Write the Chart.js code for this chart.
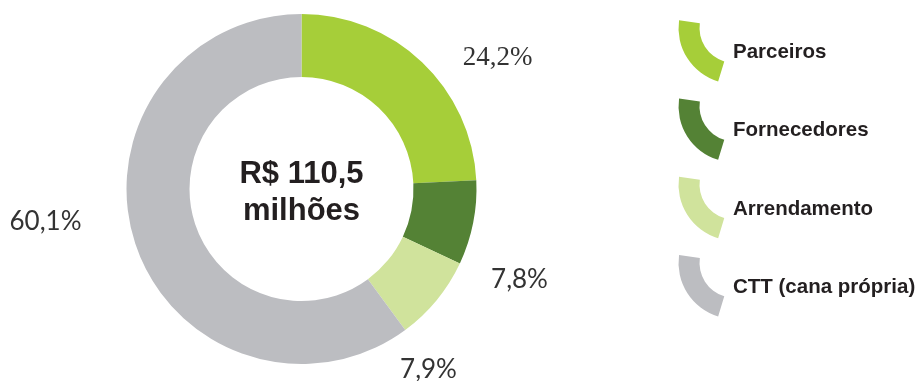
<!DOCTYPE html>
<html lang="pt-BR">
<head>
    <meta charset="utf-8">
    <meta name="viewport" content="width=device-width, initial-scale=1">
    <title>Origem da cana - R$ 110,5 milhões</title>
    <script src="https://cdn.jsdelivr.net/npm/chart.js"></script>
    <style>
        html, body { margin: 0; padding: 0; background: #fff; }
        #wrap { width: 923px; height: 381px; position: relative; }
    </style>
</head>
<body>
    <div id="wrap">
        <canvas id="chart"></canvas>
    </div>
    <script>
        const categories = ['Parceiros', 'Fornecedores', 'Arrendamento', 'CTT (cana própria)'];
        const shares = [24.2, 7.8, 7.9, 60.1];
        const shareLabels = ['24,2%', '7,8%', '7,9%', '60,1%'];
        const colors = ['#a6ce39', '#548235', '#d0e39c', '#bcbdc1'];
        const centerLines = ['R$ 110,5', 'milhões'];

        // value labels, center text and the arc-shaped legend
        const decorations = {
            id: 'decorations',
            afterDraw(chart, args, opts) {
                const ctx = chart.ctx;
                const arc0 = chart.getDatasetMeta(0).data[0];
                const cx = arc0.x, cy = arc0.y;

                ctx.save();
                ctx.textAlign = 'center';
                ctx.textBaseline = 'alphabetic';

                // percentages around the ring
                shareLabels.forEach((txt, i) => {
                    const off = opts.labelOffsets[i];
                    ctx.font = i === 0 ? '27px "Liberation Serif", serif' : '26px Lato, sans-serif';
                    ctx.fillStyle = '#333333';
                    ctx.fillText(txt, cx + off[0], cy + off[1]);
                });

                // total in the hole
                ctx.font = 'bold 31px "Liberation Sans", Arial, sans-serif';
                ctx.fillStyle = '#231f20';
                ctx.fillText(centerLines[0], cx, cy - 6);
                ctx.fillText(centerLines[1], cx, cy + 31);

                // legend
                ctx.textAlign = 'left';
                ctx.font = 'bold 20.5px "Liberation Sans", Arial, sans-serif';
                const lg = opts.legend;
                categories.forEach((name, i) => {
                    const y = lg.top + i * lg.step;
                    ctx.beginPath();
                    ctx.arc(lg.arcX, y, lg.outer, lg.start, lg.end);
                    ctx.arc(lg.arcX, y, lg.inner, lg.end, lg.start, true);
                    ctx.closePath();
                    ctx.fillStyle = colors[i];
                    ctx.fill();

                    ctx.fillStyle = '#231f20';
                    ctx.fillText(name, lg.textX, y + 30);
                });
                ctx.restore();
            }
        };

        new Chart(document.getElementById('chart'), {
            type: 'doughnut',
            data: {
                labels: categories,
                datasets: [{
                    data: shares,
                    backgroundColor: colors,
                    borderWidth: 0,
                    hoverOffset: 0
                }]
            },
            options: {
                responsive: true,
                maintainAspectRatio: false,
                animation: false,
                cutout: '64%',
                layout: { padding: { left: 126, right: 446, top: 14, bottom: 17 } },
                plugins: {
                    legend: { display: false },
                    tooltip: { enabled: false },
                    decorations: {
                        labelOffsets: [[196, -124], [218, 99], [127, 189], [-256, 41]],
                        legend: {
                            arcX: 734.5, top: 28, step: 78.3,
                            outer: 56, inner: 35,
                            start: 107 * Math.PI / 180, end: 188 * Math.PI / 180,
                            textX: 733
                        }
                    }
                }
            },
            plugins: [decorations]
        });
    </script>
</body>
</html>
